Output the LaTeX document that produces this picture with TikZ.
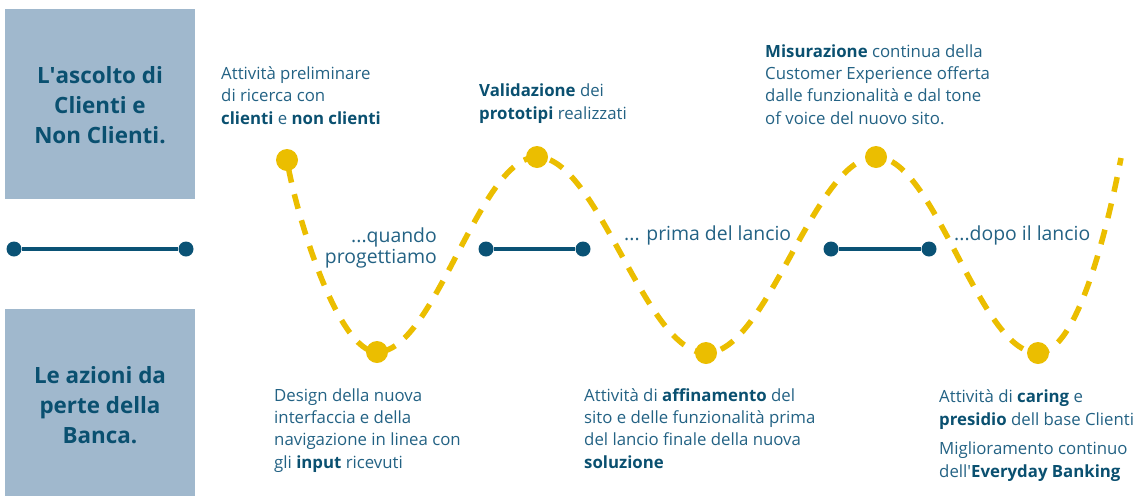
\documentclass[tikz,border=0pt]{standalone}
\usepackage{fontspec}
\setmainfont{Open Sans}
\newfontfamily\apofont{Open Sans}
\newcommand{\apo}{{\apofont'}}
\definecolor{boxblue}{RGB}{160,184,205}
\definecolor{darkblue}{RGB}{10,80,112}
\definecolor{txtblue}{RGB}{35,98,132}
\definecolor{lineblue}{RGB}{10,82,117}
\definecolor{wave}{RGB}{235,190,0}
\newcommand{\hb}[1]{\textbf{\color{darkblue}#1}}
\tikzset{
  sidebox/.style={fill=boxblue, draw=none, minimum width=190pt, inner sep=0pt, anchor=north west},
  sidetext/.style={align=center, font=\fontsize{22.4}{29.8}\selectfont\bfseries, text=darkblue, inner sep=0pt, anchor=base},
  body/.style={align=left, font=\fontsize{16.8}{22.2}\selectfont, text=txtblue, inner sep=0pt, anchor=base west},
  phase/.style={align=right, font=\fontsize{19.4}{21}\selectfont, text=txtblue, inner sep=0pt},
  bdot/.style={circle, fill=lineblue, minimum size=15pt, inner sep=0pt},
  ydot/.style={circle, fill=wave, minimum size=22pt, inner sep=0pt},
  bline/.style={draw=lineblue, line width=3.6pt},
  wavepath/.style={draw=wave, line width=5.5pt, dash pattern=on 15pt off 12pt, dash phase=-8pt}
}
\begin{document}
\begin{tikzpicture}[x=1pt, y=-1pt]
\useasboundingbox (0,0) rectangle (1142,496);
% side boxes
\node[sidebox, minimum height=190pt] (box1) at (5,9) {};
\node[sidebox, minimum height=187pt] (box2) at (5,309) {};
\node[sidetext] (t1) at (100,143) {L\apo ascolto di\\Clienti e\\Non Clienti.};
\node[sidetext] (t2) at (100,443) {Le azioni da\\perte della\\Banca.};
% wave
\coordinate (w0) at (287,160);
\coordinate (w1) at (377,352);
\coordinate (w2) at (537,157);
\coordinate (w3) at (706,353);
\coordinate (w4) at (876,157);
\coordinate (w5) at (1038,353);
\coordinate (w6) at (1121,158);
\draw[wavepath] (w0) .. controls (296,215) and (338,352) .. (w1)
  .. controls (435,352) and (479,157) .. (w2)
  .. controls (598,157) and (645,353) .. (w3)
  .. controls (768,353) and (814,157) .. (w4)
  .. controls (935,157) and (979,353) .. (w5)
  .. controls (1078,353) and (1108,225) .. (w6);
\foreach \p in {w0,w1,w2,w3,w4,w5} \node[ydot] (d\p) at (\p) {};
% blue segments
\node[bdot] (a1) at (14,249) {};
\node[bdot] (b1) at (186,249) {};
\node[bdot] (a2) at (486,249) {};
\node[bdot] (b2) at (583,249) {};
\node[bdot] (a3) at (831,249) {};
\node[bdot] (b3) at (929,249) {};
\draw[bline] (a1) -- (b1);
\draw[bline] (a2) -- (b2);
\draw[bline] (a3) -- (b3);
% phase labels
\node[phase, anchor=base east] (p1) at (437,263) {...quando\\progettiamo};
\node[phase, anchor=base west] (p2) at (624,240) {... prima del lancio};
\node[phase, anchor=base west] (p3) at (954,240) {...dopo il lancio};
% top texts
\node[body] (x1) at (221,124) {Attività preliminare\\di ricerca con\\\hb{clienti} e \hb{non clienti}};
\node[body] (x2) at (479,119) {\hb{Validazione} dei\\\hb{prototipi} realizzati};
\node[body] (x3) at (765,124) {\hb{Misurazione} continua della\\Customer Experience offerta\\dalle funzionalità e dal tone\\of voice del nuovo sito.};
% bottom texts
\node[body] (y1) at (274,468) {Design della nuova\\interfaccia e della\\navigazione in linea con\\gli \hb{input} ricevuti};
\node[body] (y2) at (584,468) {Attività di \hb{affinamento} del\\sito e delle funzionalità prima\\del lancio finale della nuova\\\hb{soluzione}};
\node[body] (y3) at (939,425) {Attività di \hb{caring} e\\\hb{presidio} dell base Clienti};
\node[body] (y4) at (939,477) {Miglioramento continuo\\dell\apo\hb{Everyday Banking}};
\end{tikzpicture}
\end{document}
